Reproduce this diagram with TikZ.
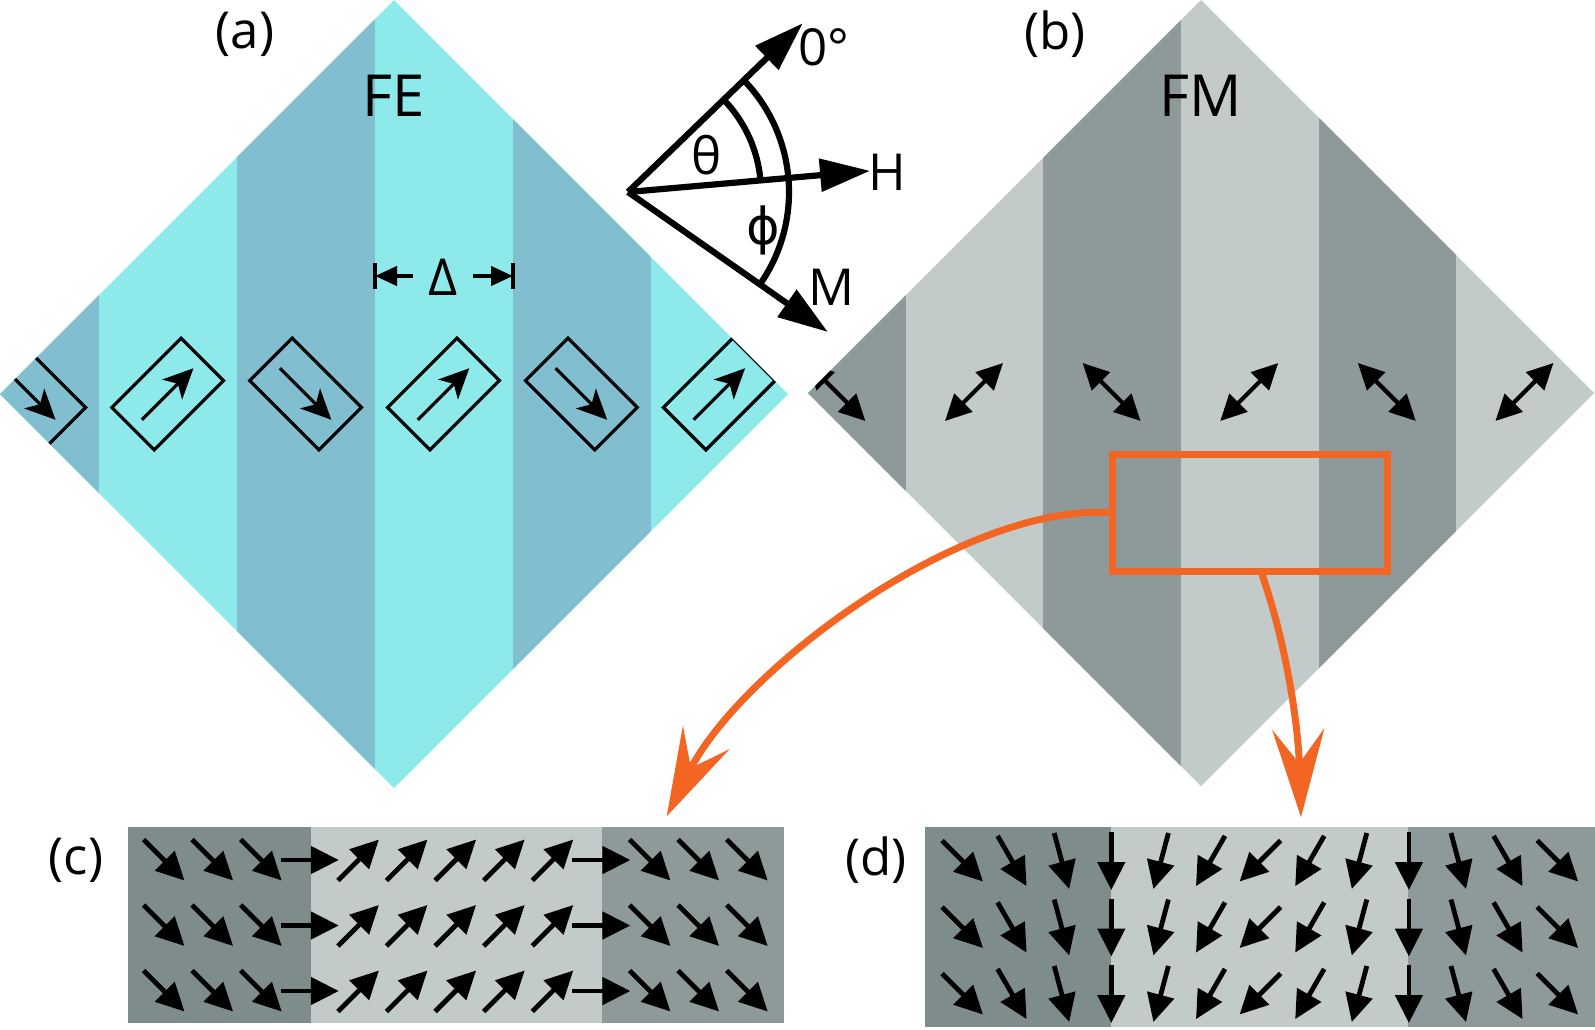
\documentclass[tikz,border=0pt]{standalone}
\usepackage{fontspec}
\setmainfont{Open Sans}
\newfontfamily\greekfont{DejaVu Sans}
\usetikzlibrary{arrows.meta,calc}
\definecolor{fedark}{RGB}{128,190,208}
\definecolor{felight}{RGB}{142,234,234}
\definecolor{fmdark}{RGB}{142,153,153}
\definecolor{fmlight}{RGB}{195,203,202}
\definecolor{spindark}{RGB}{127,140,140}
\definecolor{zoomorange}{RGB}{242,101,34}

\begin{document}
\begin{tikzpicture}[
  x=0.1mm, y=-0.1mm,
  every node/.style={font=\fontsize{14.5}{16}\selectfont},
  lbl/.style={inner sep=0pt},
  title/.style={inner sep=0pt,font=\fontsize{16.5}{18}\selectfont},
  domainbox/.style={draw,line width=0.32mm,minimum width=9.8mm,minimum height=6mm,inner sep=0pt},
  pol/.style={line width=0.32mm,-{Stealth[length=3mm,width=2.8mm,inset=0.8mm]}},
  easyaxis/.style={line width=0.42mm,{Triangle[length=2.6mm,width=2.5mm]}-{Triangle[length=2.6mm,width=2.5mm]}},
  angleray/.style={line width=0.62mm,-{Triangle[length=5mm,width=3.2mm]}},
  anglearc/.style={line width=0.62mm},
  deltabar/.style={line width=0.45mm},
  deltaarrow/.style={line width=0.42mm,-{Triangle[length=2.2mm,width=1.9mm]}},
  spin/.style={line width=0.48mm,-{Triangle[length=2.8mm,width=2.7mm]}},
  panel/.style={inner sep=0pt},
  zoombox/.style={draw=zoomorange,line width=0.7mm,inner sep=0pt,minimum width=27.5mm,minimum height=11.7mm},
  zoomarrow/.style={color=zoomorange,line width=0.7mm,-{Stealth[length=8.8mm,width=5.2mm,inset=3.4mm]}},
]
  \useasboundingbox (0,0) rectangle (1595,1029);

  % (a) ferroelectric domains
  \begin{scope}
    \clip (394,0) -- (788,394) -- (394,788) -- (0,394) -- cycle;
    \fill[felight] (0,0) rectangle (788,788);
    \foreach \k in {-3,-1,1}
      \fill[fedark] ({375+137.9*\k},0) rectangle ++(137.9,788);
    \foreach \x/\r [count=\i] in {29.8/-45,167.7/45,305.6/-45,443.5/45,581.4/-45,719.3/45} {
      \node[domainbox,rotate=\r] (fe\i) at (\x,394) {};
      \draw[pol] ($(fe\i.center)!0.72!(fe\i.west)$) -- ($(fe\i.center)!0.72!(fe\i.east)$);
    }
  \end{scope}
  \node[lbl] (labela) at (245,34) {(a)};
  \node[title] (fe) at (394,96) {FE};

  % domain width
  \node[lbl] (delta) at (443,277) {Δ};
  \coordinate (dleft) at (375,276);
  \coordinate (dright) at (513,276);
  \draw[deltabar] ([yshift=1.3mm]dleft) -- ([yshift=-1.3mm]dleft);
  \draw[deltabar] ([yshift=1.3mm]dright) -- ([yshift=-1.3mm]dright);
  \draw[deltaarrow] ([xshift=-1.5mm]delta.west |- dleft) -- (dleft);
  \draw[deltaarrow] ([xshift=1.5mm]delta.east |- dright) -- (dright);

  % angles
  \coordinate (O) at (628,192);
  \path (O) ++(-44:243) coordinate (zerotip);
  \path (O) ++(-5:243) coordinate (htip);
  \path (O) ++(35:244) coordinate (mtip);
  \draw[anglearc] ($(O)+(-44:133)$) arc[start angle=-44,end angle=-5,radius=133];
  \draw[anglearc] ($(O)+(-44:161)$) arc[start angle=-44,end angle=35,radius=161];
  \draw[angleray] (O) -- (zerotip);
  \draw[angleray] (O) -- (htip);
  \draw[angleray] (O) -- (mtip);
  \node[lbl] (zero) at (824,47) {0°};
  \node[lbl] (hlbl) at (887,172) {H};
  \node[lbl] (mlbl) at (831,287) {M};
  \node[lbl] (theta) at (707,155) {θ};
  \node[lbl,font=\greekfont\fontsize{14.5}{16}\selectfont] (phi) at (763,230) {ϕ};

  % (b) ferromagnetic domains
  \begin{scope}
    \clip (1201,0) -- (1594,393) -- (1201,786) -- (808,393) -- cycle;
    \fill[fmlight] (800,0) rectangle (1595,788);
    \foreach \k in {-3,-1,1}
      \fill[fmdark] ({1181+137.6*\k},0) rectangle ++(137.6,788);
    \foreach \x/\s in {836.4/1,974/-1,1111.6/1,1249.2/-1,1386.8/1,1524.4/-1}
      \draw[easyaxis] ({\x-29},{392-29*\s}) -- ({\x+29},{392+29*\s});
  \end{scope}
  \node[lbl] (labelb) at (1055,34) {(b)};
  \node[title] (fm) at (1201,96) {FM};
  \node[zoombox] (zoom) at (1249.5,512.5) {};

  % (c) Neel-like wall
  \fill[spindark] (128,827) rectangle (310.5,1023);
  \fill[fmlight] (310.5,827) rectangle (602,1023);
  \fill[fmdark] (602,827) rectangle (784,1023);
  \node[panel,minimum width=65.6mm,minimum height=19.6mm] (panelc) at (456,925) {};
  \foreach \a [count=\i from 0] in {45,45,45,0,-45,-45,-45,-45,-45,0,45,45,45}
    \foreach \y in {860,925.5,991}
      \draw[spin] ({164+48.6*\i},\y) ++(\a:-29) -- ++(\a:58);
  \node[lbl] (labelc) at (76,860) {(c)};

  % (d) rotating wall
  \fill[spindark] (925,827) rectangle (1110.7,1027);
  \fill[fmlight] (1110.7,827) rectangle (1408.3,1027);
  \fill[fmdark] (1408.3,827) rectangle (1595,1027);
  \node[panel,minimum width=67mm,minimum height=20mm] (paneld) at (1260,927) {};
  \foreach \a [count=\i from 0] in {45,60,75,90,105,120,135,120,105,90,75,60,45}
    \foreach \y in {861,927.5,994}
      \draw[spin] ({962.5+49.6*\i},\y) ++(\a:-29) -- ++(\a:58);
  \node[lbl] (labeld) at (876,860) {(d)};

  % zoom connectors
  \path (panelc.north east) ++(-118,-10) coordinate (ctip);
  \path (paneld.north) ++(41,-9) coordinate (dtip);
  \draw[zoomarrow] (zoom.west) .. controls (960,505) and (740,670) .. (ctip);
  \draw[zoomarrow] ($(zoom.south)+(12.5,0)$) .. controls (1285,640) and (1298,720) .. (dtip);
\end{tikzpicture}
\end{document}
